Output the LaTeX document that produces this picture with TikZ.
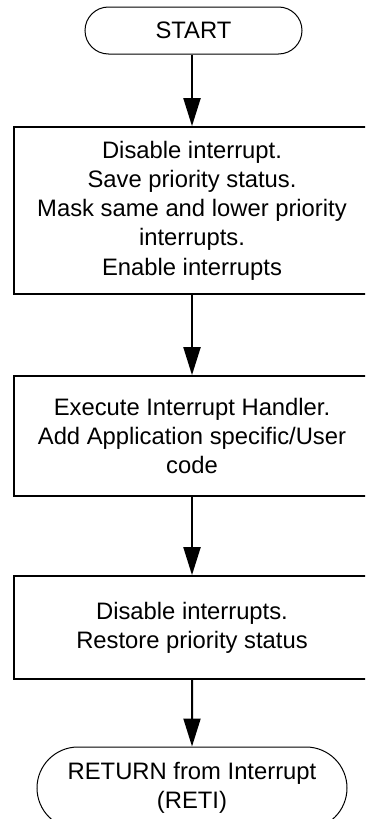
\documentclass[tikz,border=0pt]{standalone}
\usepackage{fontspec}
\setmainfont{Liberation Sans}
\usetikzlibrary{arrows.meta,shapes.misc}

\tikzset{
  lbl/.style={font=\fontsize{23.8}{29.2}\selectfont, align=center, inner sep=0pt},
  terminal/.style={lbl, rounded rectangle, draw, line width=1pt},
  procbox/.style={lbl, rectangle, draw, line width=1.7pt, minimum width=356pt},
  flow/.style={line width=2pt, -{Triangle[length=28pt,width=17pt]}}
}

\begin{document}
\begin{tikzpicture}[x=1pt,y=-1pt]
  \clip (0,0) rectangle (365,819);

  \node[terminal, minimum width=217pt, minimum height=47pt] (start) at (193.5,30.5) {START};

  \node[procbox, minimum height=167pt] (save) at (192,210.5)
    {Disable interrupt.\\Save priority status.\\Mask same and lower priority\\interrupts.\\Enable interrupts};

  \node[procbox, minimum height=120pt] (handler) at (192,436)
    {Execute Interrupt Handler.\\Add Application specific/User\\code};

  \node[procbox, minimum height=103pt] (restore) at (192,627.5)
    {Disable interrupts.\\Restore priority status};

  \node[terminal, minimum width=310pt, minimum height=82pt] (reti) at (192,788)
    {RETURN from Interrupt\\(RETI)};

  \draw[flow] (start.south -| save.north) -- (save.north);
  \draw[flow] (save) -- (handler);
  \draw[flow] (handler) -- (restore);
  \draw[flow] (restore) -- (reti);
\end{tikzpicture}
\end{document}
